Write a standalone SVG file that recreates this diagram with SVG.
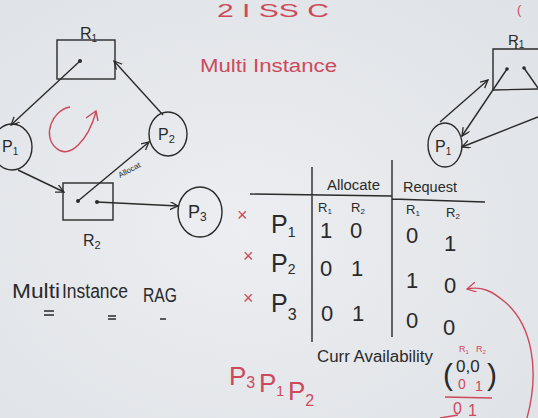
<svg xmlns="http://www.w3.org/2000/svg" width="538" height="418" viewBox="0 0 538 418">
<defs>
<radialGradient id="bg" cx="0.45" cy="0.55" r="0.75">
<stop offset="0" stop-color="#eceef1"/>
<stop offset="1" stop-color="#dfe2e6"/>
</radialGradient>
<marker id="ah" markerWidth="10" markerHeight="10" refX="8" refY="4" orient="auto" markerUnits="userSpaceOnUse">
<path d="M0,0 L8,4 L0,8" fill="none" stroke="#2a2a2a" stroke-width="1.3"/>
</marker>
<marker id="ahr" markerWidth="12" markerHeight="12" refX="9" refY="5" orient="auto" markerUnits="userSpaceOnUse">
<path d="M0,0 L9,5 L0,10" fill="none" stroke="#cc4a5c" stroke-width="1.3"/>
</marker>
</defs>
<style>
.ink{fill:none;stroke:#2a2a2a;stroke-width:1.4}
.red{fill:none;stroke:#cc4a5c;stroke-width:1.4}
.dot{fill:#2a2a2a}
.t{font-family:"Liberation Sans",Arial,sans-serif;fill:#2a2a2a}
.tr{font-family:"Liberation Sans",Arial,sans-serif;fill:#cc4a5c}
.lbl{font-size:16px}
.big{font-size:25px}
.val{font-size:22px}
.hdr{font-size:14px}
</style>
<rect width="538" height="418" fill="url(#bg)"/>

<!-- top red partial title -->
<text class="tr" x="217" y="17" font-size="18" textLength="112" lengthAdjust="spacingAndGlyphs">2 I SS C</text>
<text class="tr" x="517" y="14" font-size="13">(</text>

<text class="tr" x="200" y="72" font-size="18" textLength="137" lengthAdjust="spacingAndGlyphs">Multi Instance</text>

<!-- left graph nodes -->
<g id="R1">
<rect class="ink" x="57" y="40" width="58" height="39"/>
<circle class="dot" cx="80" cy="61" r="2"/>
<text class="t lbl" x="80" y="39">R<tspan font-size="10" dy="3">1</tspan></text>
</g>
<g id="R2">
<rect class="ink" x="63" y="183" width="50" height="37"/>
<circle class="dot" cx="78" cy="201" r="2"/>
<circle class="dot" cx="97" cy="202" r="2"/>
<text class="t lbl" x="83" y="246">R<tspan font-size="11" dy="3">2</tspan></text>
</g>
<g id="P1">
<ellipse class="ink" cx="12" cy="147" rx="20" ry="23"/>
<text class="t lbl" x="2" y="152">P<tspan font-size="10" dy="3">1</tspan></text>
</g>
<g id="P2">
<ellipse class="ink" cx="168" cy="134" rx="19" ry="22"/>
<text class="t lbl" x="158" y="140">P<tspan font-size="11" dy="3">2</tspan></text>
</g>
<g id="P3">
<ellipse class="ink" cx="200" cy="212" rx="22" ry="25"/>
<text class="t" font-size="18" x="188" y="218">P<tspan font-size="12" dy="3">3</tspan></text>
</g>

<!-- right partial graph nodes -->
<g id="R1b">
<path class="ink" d="M538,49 L493,49 L493,90 L538,89"/>
<line class="ink" x1="516" y1="44" x2="516" y2="49"/>
<circle class="dot" cx="507" cy="69" r="1.8"/>
<circle class="dot" cx="524" cy="68" r="1.8"/>
<text class="t" font-size="15" x="508" y="45">R<tspan font-size="10" dy="3">1</tspan></text>
</g>
<g id="P1b">
<ellipse class="ink" cx="445" cy="145" rx="17" ry="22"/>
<text class="t lbl" x="435" y="152">P<tspan font-size="10" dy="3">1</tspan></text>
</g>

<!-- connectors -->
<g id="connectors">
<line class="ink" x1="80" y1="61" x2="11" y2="125" marker-end="url(#ah)"/>
<line class="ink" x1="18" y1="170" x2="64" y2="192" marker-end="url(#ah)"/>
<line class="ink" x1="78" y1="201" x2="149" y2="142" marker-end="url(#ah)"/>
<line class="ink" x1="97" y1="202" x2="178" y2="206" marker-end="url(#ah)"/>
<line class="ink" x1="163" y1="115" x2="114" y2="61" marker-end="url(#ah)"/>
<text class="t" font-size="8" transform="translate(120,178) rotate(-28)">Allocat</text>
<line class="ink" x1="507" y1="69" x2="462" y2="136" marker-end="url(#ah)"/>
<line class="ink" x1="440" y1="122" x2="488" y2="80" marker-end="url(#ah)"/>
<line class="ink" x1="538" y1="117" x2="462" y2="147" marker-end="url(#ah)"/>
<line class="ink" x1="524" y1="68" x2="538" y2="88"/>
</g>

<!-- red cycle -->
<path class="red" d="M70,107 C52,110 42,136 56,148 C70,160 88,140 96,112"/>
<path class="red" d="M86,118 L96,111 L98,121"/>

<!-- Multi Instance RAG -->
<text class="t" font-size="20" x="12" y="298" textLength="48" lengthAdjust="spacingAndGlyphs">Multi</text>
<text class="t" font-size="20" x="62" y="298" textLength="66" lengthAdjust="spacingAndGlyphs">Instance</text>
<text class="t" font-size="20" x="143" y="302" textLength="34" lengthAdjust="spacingAndGlyphs">RAG</text>
<path class="ink" stroke-width="1.2" d="M44,311 L54,311 M44,315 L54,315 M108,316 L116,316 M108,319 L116,319 M160,319 L166,319"/>

<!-- table -->
<path class="ink" d="M250,194 L392,196 M392,199 L485,202 M312,167 L312,342 M392,160 L392,337"/>
<text class="t hdr" x="327" y="190" textLength="53" lengthAdjust="spacingAndGlyphs">Allocate</text>
<text class="t hdr" x="403" y="192" textLength="54" lengthAdjust="spacingAndGlyphs">Request</text>
<text class="t" font-size="13" x="318" y="212">R<tspan font-size="8" dy="2">1</tspan></text>
<text class="t" font-size="13" x="351" y="212">R<tspan font-size="8" dy="2">2</tspan></text>
<text class="t" font-size="13" x="406" y="214">R<tspan font-size="8" dy="2">1</tspan></text>
<text class="t" font-size="13" x="446" y="217">R<tspan font-size="8" dy="2">2</tspan></text>

<text class="t big" x="271" y="233">P<tspan font-size="14" dy="4">1</tspan></text>
<text class="t big" x="271" y="272">P<tspan font-size="14" dy="2">2</tspan></text>
<text class="t big" x="271" y="312">P<tspan font-size="16" dy="8">3</tspan></text>

<text class="t val" x="320" y="238">1</text>
<text class="t val" x="350" y="238">0</text>
<text class="t val" x="406" y="243">0</text>
<text class="t val" x="444" y="251">1</text>

<text class="t val" x="320" y="276">0</text>
<text class="t val" x="351" y="276">1</text>
<text class="t val" x="406" y="288">1</text>
<text class="t val" x="444" y="293">0</text>

<text class="t val" x="321" y="321">0</text>
<text class="t val" x="352" y="321">1</text>
<text class="t val" x="406" y="328">0</text>
<text class="t val" x="443" y="335">0</text>

<text class="tr" font-size="18" x="237" y="221">×</text>
<text class="tr" font-size="18" x="243" y="262">×</text>
<text class="tr" font-size="18" x="243" y="304">×</text>

<!-- availability -->
<text class="t" font-size="16" x="317" y="362" textLength="116" lengthAdjust="spacingAndGlyphs">Curr Availability</text>
<text class="t" font-size="30" x="443" y="385">(</text>
<text class="t" font-size="30" x="487" y="385">)</text>
<text class="t" font-size="17" x="456" y="372">0,0</text>
<text class="tr" font-size="9" x="459" y="352">R<tspan font-size="6" dy="2">1</tspan></text>
<text class="tr" font-size="9" x="476" y="352">R<tspan font-size="6" dy="2">2</tspan></text>
<text class="tr" font-size="14" x="458" y="389">0</text>
<text class="tr" font-size="14" x="475" y="391">1</text>
<line class="red" x1="445" y1="397" x2="492" y2="398"/>
<text class="tr" font-size="16" x="453" y="414">0</text>
<text class="tr" font-size="16" x="468" y="416">1</text>
<line class="red" x1="440" y1="418" x2="458" y2="415"/>

<!-- red order -->
<text class="tr" font-size="26" x="229" y="385">P<tspan font-size="16" dy="3">3</tspan></text>
<text class="tr" font-size="26" x="259" y="392">P<tspan font-size="14" dy="4">1</tspan></text>
<text class="tr" font-size="26" x="288" y="400">P<tspan font-size="16" dy="6">2</tspan></text>

<!-- red curved arrow -->
<path class="red" d="M527,418 C540,370 532,325 505,302 C492,291 482,286 467,289" marker-end="url(#ahr)"/>
</svg>
